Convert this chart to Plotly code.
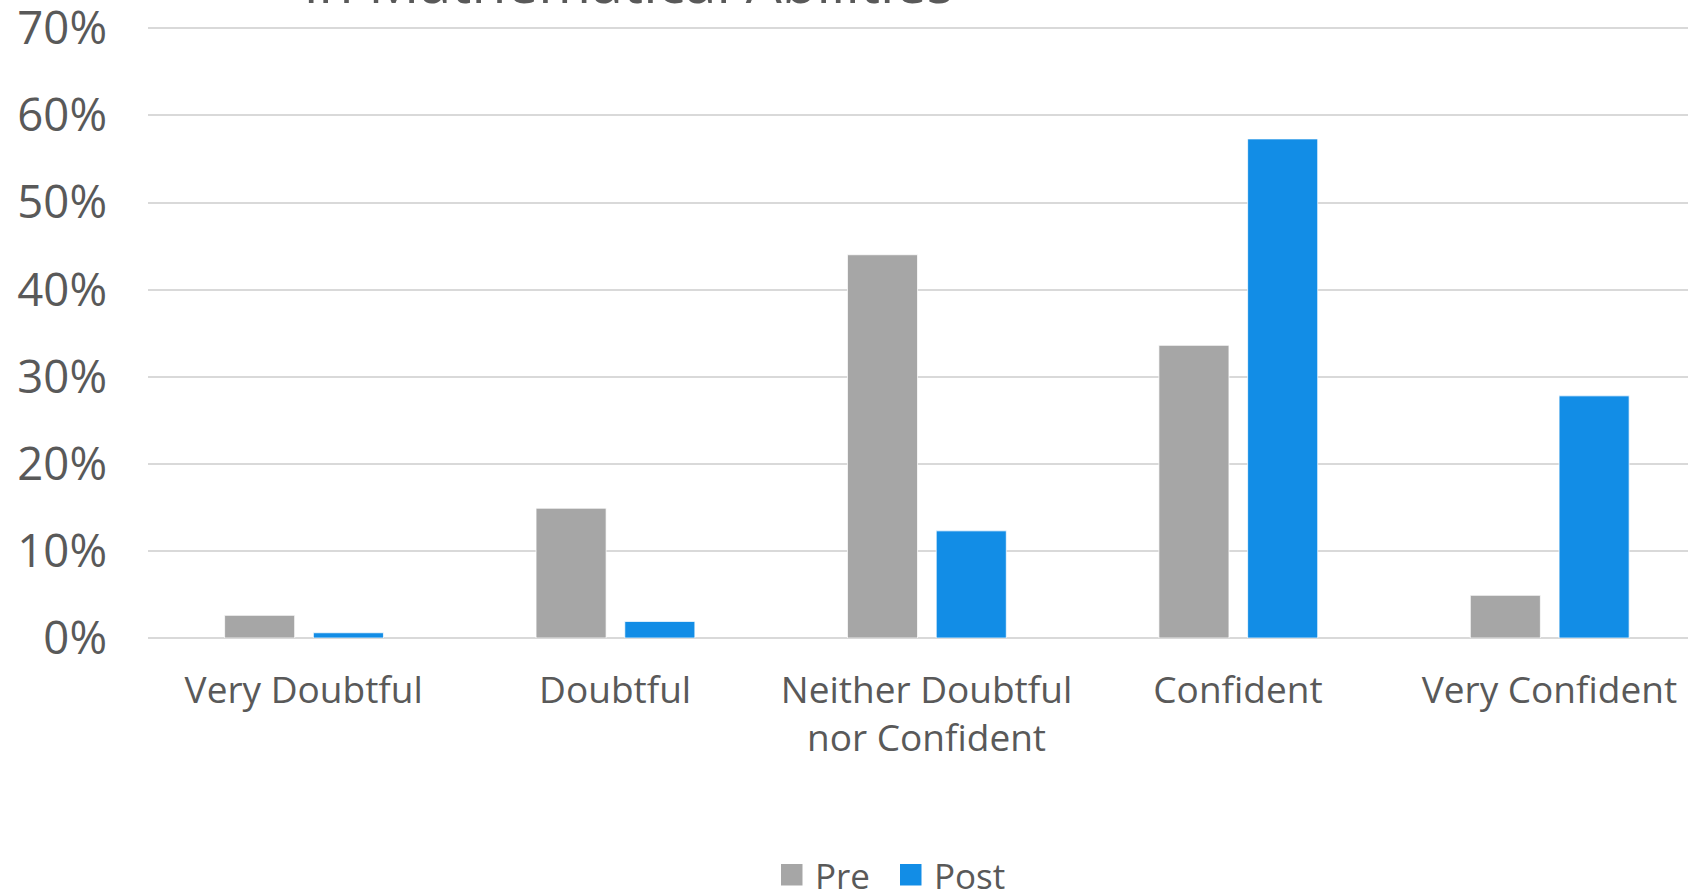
import plotly.graph_objects as go

# Survey responses: share of students at each confidence level
categories = ["Very Doubtful", "Doubtful", "Neither Doubtful<br>nor Confident",
              "Confident", "Very Confident"]
pre_values = [2.6, 14.9, 44.0, 33.6, 4.9]
post_values = [0.6, 1.9, 12.3, 57.3, 27.8]
series_names = ["Pre", "Post"]
series_colors = ["#a6a6a6", "#128de6"]
y_ticks = [0, 10, 20, 30, 40, 50, 60, 70]
title_text = "in Mathematical Abilities"

W, H = 1688, 892
L, R, T, B = 148, 0, 27, 254
FONT = "Open Sans"
TEXT = "#595959"

fig = go.Figure()
for name, vals, color, off in zip(series_names, [pre_values, post_values],
                                  series_colors, [-0.254, 0.031]):
    fig.add_trace(go.Bar(
        x=list(range(len(categories))), y=vals, name=name,
        marker=dict(color=color, line=dict(color="white", width=0.75)),
        width=0.225, offset=off, showlegend=False,
    ))

pw = W - L - R
ph = H - T - B


def px(x):
    return (x - L) / pw


def py(y):
    return (H - B - y) / ph


shapes = []
annotations = []
# legend: colour square + series name
legend_x = [781, 900]
for name, color, lx in zip(series_names, series_colors, legend_x):
    shapes.append(dict(type="rect", xref="paper", yref="paper",
                       x0=px(lx), x1=px(lx + 21.5), y0=py(885.5), y1=py(864),
                       fillcolor=color, line=dict(width=0)))
    annotations.append(dict(text=name, xref="paper", yref="paper",
                            x=px(lx + 32), y=py(875), xanchor="left",
                            yanchor="middle", height=30, valign="middle",
                            showarrow=False,
                            font=dict(family=FONT, size=35, color=TEXT)))

# chart title (lower line, running off the top edge)
annotations.append(dict(text=title_text, xref="paper", yref="paper",
                        x=px(629), y=py(22), xanchor="center", yanchor="bottom",
                        showarrow=False,
                        font=dict(family=FONT, size=57, color=TEXT)))

fig.update_layout(
    width=W, height=H,
    margin=dict(l=L, r=R, t=T, b=B, pad=0, autoexpand=False),
    paper_bgcolor="white", plot_bgcolor="white",
    barmode="group",
    shapes=shapes, annotations=annotations,
    font=dict(family=FONT, color=TEXT),
    xaxis=dict(
        range=[-0.5, 4.445], automargin=False,
        tickmode="array", tickvals=list(range(len(categories))),
        ticktext=categories,
        tickfont=dict(family=FONT, size=37, color=TEXT),
        showgrid=False, showline=False, zeroline=False,
        ticks="", ticklabelstandoff=27,
    ),
    yaxis=dict(
        range=[0, 70.15], automargin=False,
        tickmode="array", tickvals=y_ticks,
        ticktext=[f"{v}%" for v in y_ticks],
        tickfont=dict(family=FONT, size=45.5, color=TEXT),
        showgrid=True, gridcolor="#d9d9d9", gridwidth=1.5,
        zeroline=True, zerolinecolor="#d9d9d9", zerolinewidth=1.5,
        showline=False, ticks="", ticklabelstandoff=40,
        ticklabeloverflow="allow",
    ),
)

fig.write_html("out.html")
